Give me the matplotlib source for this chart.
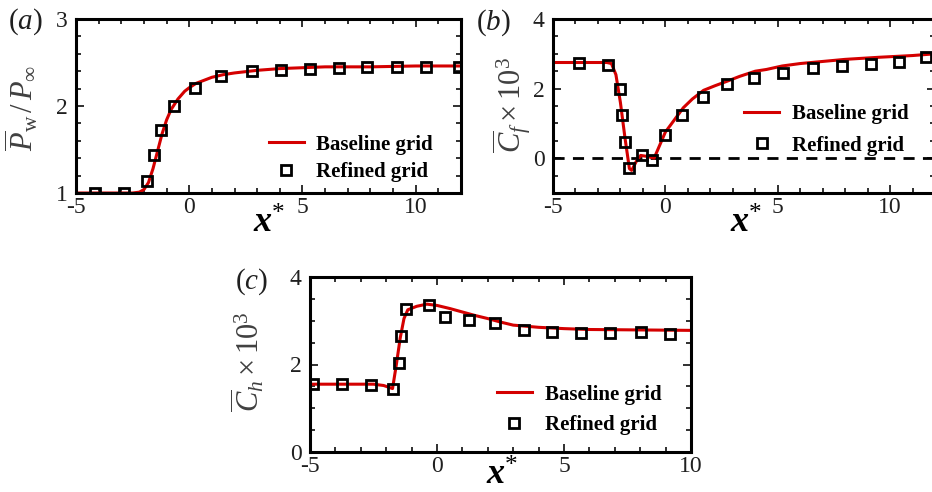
import numpy as np
import matplotlib.pyplot as plt
from matplotlib.ticker import MultipleLocator

plt.rcParams['font.family'] = ['Liberation Serif', 'DejaVu Serif']
plt.rcParams['mathtext.fontset'] = 'custom'
plt.rcParams['mathtext.rm'] = 'Liberation Serif'
plt.rcParams['mathtext.it'] = 'Liberation Serif:italic'
plt.rcParams['mathtext.bf'] = 'Liberation Serif:bold'
plt.rcParams['mathtext.bfit'] = 'Liberation Serif:bold:italic'
plt.rcParams['axes.unicode_minus'] = False

# (a) wall pressure
pa_line_x = [-5, -2.5, -2.2, -2.0, -1.8, -1.6, -1.4, -1.2, -1.0, -0.8, -0.5, -0.2, 0, 0.3, 0.7, 1.0, 1.5, 2, 3, 4, 5, 6, 8, 10, 12]
pa_line_y = [1.0, 1.0, 1.01, 1.04, 1.12, 1.28, 1.48, 1.68, 1.84, 1.96, 2.08, 2.17, 2.21, 2.26, 2.30, 2.33, 2.36, 2.38, 2.41, 2.43, 2.44, 2.45, 2.45, 2.46, 2.46]
pa_pts_x = [-4.16, -2.86, -1.86, -1.55, -1.23, -0.69, 0.27, 1.42, 2.77, 4.03, 5.32, 6.61, 7.86, 9.16, 10.44, 11.92]
pa_pts_y = [1.0, 1.0, 1.14, 1.44, 1.72, 2.0, 2.21, 2.34, 2.40, 2.41, 2.43, 2.44, 2.45, 2.45, 2.45, 2.45]

# (b) skin friction
cf_line_x = [-5, -2.6, -2.4, -2.2, -2.0, -1.8, -1.6, -1.5, -1.3, -1.1, -0.8, -0.5, -0.3, 0, 0.4, 0.8, 1.2, 1.7, 2.2, 2.7, 3.3, 4.0, 4.5, 5.2, 6.0, 7.0, 8.0, 9.5, 11, 12]
cf_line_y = [2.75, 2.75, 2.72, 2.4, 1.6, 0.6, -0.3, -0.35, -0.1, 0.08, 0.05, 0.0, 0.3, 0.75, 1.1, 1.45, 1.7, 1.95, 2.08, 2.2, 2.35, 2.5, 2.55, 2.65, 2.72, 2.78, 2.84, 2.9, 2.95, 3.0]
cf_pts_x = [-3.84, -2.55, -2.04, -1.93, -1.81, -1.62, -1.03, -0.58, 0.0, 0.72, 1.68, 2.73, 3.96, 5.23, 6.56, 7.85, 9.13, 10.4, 11.6]
cf_pts_y = [2.73, 2.68, 1.98, 1.25, 0.46, -0.29, 0.09, -0.04, 0.68, 1.25, 1.77, 2.12, 2.30, 2.44, 2.58, 2.66, 2.70, 2.77, 2.90]

# (c) heat flux
ch_line_x = [-5, -2.5, -2.1, -1.75, -1.6, -1.45, -1.3, -1.15, -0.8, -0.4, 0, 0.5, 1.0, 1.5, 2.0, 2.5, 3.0, 4.0, 5.0, 6.0, 8.0, 10]
ch_line_y = [1.55, 1.55, 1.52, 1.45, 2.0, 2.6, 3.05, 3.25, 3.33, 3.38, 3.35, 3.28, 3.2, 3.12, 3.05, 2.97, 2.9, 2.85, 2.82, 2.8, 2.79, 2.78]
ch_pts_x = [-4.89, -3.75, -2.6, -1.72, -1.51, -1.42, -1.22, -0.3, 0.33, 1.26, 2.3, 3.41, 4.53, 5.68, 6.81, 8.02, 9.17]
ch_pts_y = [1.55, 1.55, 1.54, 1.43, 2.03, 2.65, 3.26, 3.36, 3.09, 3.02, 2.96, 2.80, 2.75, 2.71, 2.71, 2.74, 2.70]

W, H = 932, 492
fig = plt.figure(figsize=(W / 100, H / 100), dpi=100)


def box(l, t, r, b):
    return [l / W, 1 - b / H, (r - l) / W, (b - t) / H]


red = '#d40000'
ylab_color = '#404040'


def style(ax, ymin, ymax, ymaj, ymin_step, xmax):
    ax.set_xlim(-5, xmax)
    ax.set_ylim(ymin, ymax)
    ax.xaxis.set_major_locator(MultipleLocator(5))
    ax.xaxis.set_minor_locator(MultipleLocator(1))
    ax.yaxis.set_major_locator(MultipleLocator(ymaj))
    ax.yaxis.set_minor_locator(MultipleLocator(ymin_step))
    ax.tick_params(which='both', direction='in', top=True, right=True,
                   labelsize=17, width=1.3, colors='#202020')
    ax.tick_params(which='major', length=6)
    ax.tick_params(axis='x', which='major', pad=3)
    ax.tick_params(axis='y', which='major', pad=6)
    ax.tick_params(which='minor', length=3.5)
    for s in ax.spines.values():
        s.set_linewidth(2.2)


def legend(ax, x, y, spacing):
    ax.legend(loc='upper left', bbox_to_anchor=(x, y), frameon=False,
              prop={'weight': 'bold', 'size': 15}, handlelength=1.7,
              handletextpad=0.6, labelspacing=spacing, borderpad=0, borderaxespad=0)


def draw(ax, lx, ly, px, py):
    ax.plot(lx, ly, color=red, lw=2.2, label='Baseline grid')
    ax.plot(px, py, 's', ms=6.5, mfc='none', mec='black', mew=2, label='Refined grid')


ax1 = fig.add_axes(box(76, 19, 461, 193))
draw(ax1, pa_line_x, pa_line_y, pa_pts_x, pa_pts_y)
style(ax1, 1, 3, 1, 0.2, 12)
legend(ax1, 0.5, 0.335, 0.35)

ax2 = fig.add_axes(box(553, 19, 935, 193))
ax2.axhline(0, color='black', ls='--', lw=2, dashes=(4, 3))
draw(ax2, cf_line_x, cf_line_y, cf_pts_x, cf_pts_y)
style(ax2, -1, 4, 2, 0.5, 12)
legend(ax2, 0.5, 0.51, 0.55)

ax3 = fig.add_axes(box(310, 277, 691, 452))
draw(ax3, ch_line_x, ch_line_y, ch_pts_x, ch_pts_y)
style(ax3, 0, 4, 2, 0.5, 10)
legend(ax3, 0.49, 0.385, 0.5)

# y labels
fig.text(22 / W, 1 - 108 / H, r'$\overline{P}_{\rm w}\,/\,P_\infty$', rotation=90,
         ha='center', va='center', fontsize=22, color=ylab_color)
fig.text(512 / W, 1 - 105 / H, r'$\overline{C}_f\times10^3$', rotation=90,
         ha='center', va='center', fontsize=22, color=ylab_color)
fig.text(248 / W, 1 - 362 / H, r'$\overline{C}_h\times10^3$', rotation=90,
         ha='center', va='center', fontsize=22, color=ylab_color)

# x labels
for xc, yb in [(269, 233), (746, 233), (502, 485)]:
    fig.text(xc / W, 1 - yb / H, r'$\mathbfit{x}^{*}$', ha='center', va='baseline',
             fontsize=26, color='black')

# panel tags
for xc, yc, tag in [(25, 22, 'a'), (493, 23, 'b'), (252, 282, 'c')]:
    fig.text(xc / W, 1 - yc / H, '(' + r'$\it{' + tag + '}$' + ')', ha='center', va='center',
             fontsize=21, color='#202020')

fig.savefig('out.png', dpi=100)
